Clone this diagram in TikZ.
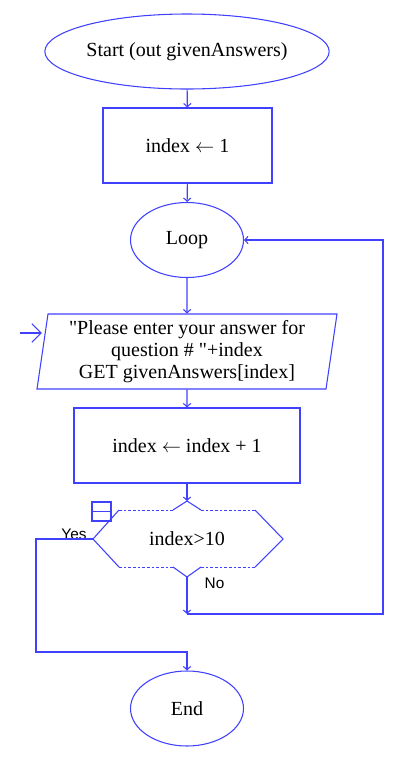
\documentclass[tikz,border=0pt]{standalone}
\usepackage{fontspec}
\setmainfont{Liberation Serif}[Ligatures=TeXOff]
\newfontfamily\labelfont{Liberation Sans}
\usetikzlibrary{shapes.geometric,arrows.meta}
\definecolor{flowblue}{RGB}{64,64,255}
\tikzset{
  flow/.style={draw=flowblue, line width=0.8pt},
  line/.style={flow, -{Straight Barb[length=2.5pt,width=5.5pt]}},
  terminal/.style={flow, ellipse, minimum width=#1, minimum height=56.25pt, inner sep=0pt},
  process/.style={flow, rectangle, minimum width=#1, minimum height=56.25pt, inner sep=0pt},
  io/.style={flow, trapezium, trapezium left angle=80, trapezium right angle=100,
    trapezium stretches body, minimum width=225pt, minimum height=56.25pt,
    inner sep=0pt, align=center},
  branch/.style={font=\labelfont\fontsize{11.5}{13}\selectfont}
}
\begin{document}
\begin{tikzpicture}[x=0.75pt,y=-0.75pt,font=\fontsize{15}{16.5}\selectfont]
\useasboundingbox (0,0) rectangle (413,758);

\node[terminal=169.5pt] (start) at (187,51.5) {Start (out givenAnswers)};
\node[process=126.75pt] (init) at (187.5,145.5) {index $\leftarrow$ 1};
\node[terminal=84.75pt] (loop) at (187,240) {Loop};
\node[io] (input) at (187,351.5) {"Please enter your answer for\\question \# "+index\\GET givenAnswers[index]};
\node[process=169.5pt] (incr) at (187,445.5) {index $\leftarrow$ index + 1};
\node (test) at (187,539) {index>10};
\node[terminal=84.75pt] (end) at (187,708.5) {End};

% decision outline
\coordinate (testtop) at (187,501);
\coordinate (testbot) at (187,577);
\coordinate (testleft) at (93,539);
\draw[flow] (173,510) -- (testtop) -- (201,510);
\draw[flow] (173,567) -- (testbot) -- (201,567);
\draw[flow] (119,510) -- (testleft) -- (119,567);
\draw[flow] (255,510) -- (283,539) -- (255,567);
\draw[flow, line width=0.6pt, dash pattern=on 2pt off 1.5pt]
  (119,510) -- (173,510) (201,510) -- (255,510)
  (119,567) -- (173,567) (201,567) -- (255,567);
\draw[flow] (92,502) rectangle (111,521) (92,511.5) -- (111,511.5);

\node[branch] (yes) at (74,534) {Yes};
\node[branch] (no) at (214.5,583) {No};

% connectors
\coordinate (entry) at (20,333);
\coordinate (nojoin) at (187,614);
\coordinate (yesjoin) at (187,652);
\draw[line] (start) -- (init);
\draw[line] (init) -- (loop);
\draw[line] (loop) -- (input);
\draw[line] (input) -- (incr);
\draw[line] (incr) -- (testtop);
\draw[line] (testbot) -- (nojoin);
\draw[line] (nojoin) -- (383,614) -- (383,240) -- (loop.east);
\draw[line] (testleft) -- (36,539) -- (36,652) -- (yesjoin) -- (end);
\draw[flow, -{Straight Barb[length=7pt,width=14pt]}] (entry) -- (input.west |- entry);
\end{tikzpicture}
\end{document}
